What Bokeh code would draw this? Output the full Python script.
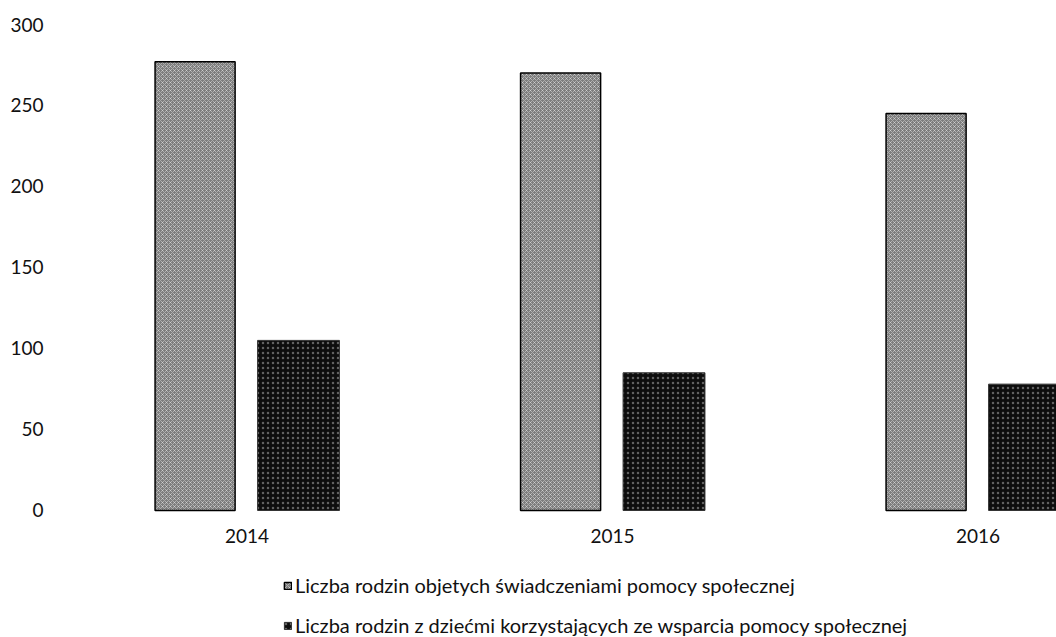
from bokeh.plotting import figure
from bokeh.models import Range1d, FixedTicker, ColumnDataSource, Legend, LegendItem
from bokeh.core.properties import value
from bokeh.transform import dodge
from bokeh.embed import file_html
from bokeh.resources import INLINE

years = ["2014", "2015", "2016"]
families_assisted = [277, 270, 245]
families_with_children = [105, 85, 78]
y_ticks = [0, 50, 100, 150, 200, 250, 300]
series_labels = [
    "Liczba rodzin objetych świadczeniami pomocy społecznej",
    "Liczba rodzin z dziećmi korzystających ze wsparcia pomocy społecznej",
]

FONT = "Lato"
xpos = [i + 0.5 for i in range(len(years))]
src = ColumnDataSource(dict(x=xpos, a=families_assisted, b=families_with_children,
                            y0=[0] * len(years), label=years))

p = figure(width=1056, height=637, output_backend="svg", toolbar_location=None,
           x_axis_location=None,
           x_range=Range1d(-0.0239, 2.7148), y_range=Range1d(-78.4, 300),
           min_border_left=55, min_border_right=0, min_border_top=24, min_border_bottom=0)
p.outline_line_color = None
p.grid.visible = False

r1 = p.vbar(x=dodge("x", -0.142), top="a", width=0.219, bottom=0, source=src,
            fill_color="#7d7d7d", line_color="black", line_width=1.5,
            hatch_pattern="x", hatch_color="white", hatch_alpha=0.4, hatch_scale=4, hatch_weight=1)
r2 = p.vbar(x=dodge("x", 0.141), top="b", width=0.224, bottom=0, source=src,
            fill_color="#0d0d0d", line_color="#333333", line_width=1,
            hatch_pattern="dot", hatch_color="white", hatch_alpha=0.35, hatch_scale=5, hatch_weight=1)

p.text(x="x", y="y0", text="label", source=src, text_align="center", text_baseline="middle",
       y_offset=26, text_font=value(FONT), text_font_size="19px", text_color="#111111")

p.yaxis.ticker = FixedTicker(ticks=y_ticks)
ax = p.yaxis
ax.axis_line_color = None
ax.major_tick_line_color = None
ax.minor_tick_line_color = None
ax.major_tick_out = 0
ax.major_tick_in = 0
ax.major_label_text_font = FONT
ax.major_label_text_font_size = "19px"
ax.major_label_text_color = "#111111"
ax.major_label_standoff = 12

legend = Legend(items=[LegendItem(label=series_labels[0], renderers=[r1]),
                       LegendItem(label=series_labels[1], renderers=[r2])],
                location=(228, 0), orientation="vertical",
                glyph_width=9, glyph_height=9, label_standoff=3, spacing=16,
                padding=0, margin=0, border_line_color=None, background_fill_alpha=0,
                label_text_font=FONT, label_text_font_size="20px", label_text_color="#111111",
                label_height=24)
p.add_layout(legend, "center")

open("out.html", "w").write(file_html(p, INLINE))
